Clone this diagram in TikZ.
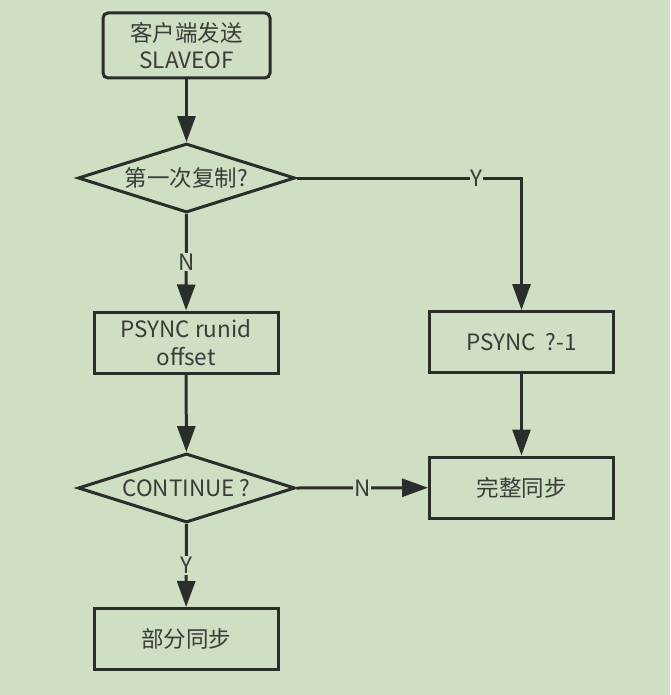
\documentclass[tikz,border=0pt]{standalone}
\usepackage{fontspec}
\setmainfont{Noto Sans CJK SC}
\usetikzlibrary{shapes.geometric,arrows.meta}
\definecolor{bg}{HTML}{CEDFC3}
\definecolor{ln}{HTML}{2A2E2A}
\definecolor{tx}{HTML}{3A3C3A}
\begin{document}
\begin{tikzpicture}[x=1pt,y=-1pt,
  every node/.style={text=tx,font=\fontsize{22.5}{27.5}\selectfont},
  box/.style={draw=ln,line width=3pt,inner sep=0pt,minimum width=184pt,minimum height=61pt,align=center},
  dia/.style={diamond,draw=ln,line width=3pt,inner sep=0pt,minimum width=217pt,minimum height=69pt,aspect=3.1},
  arr/.style={draw=ln,line width=3pt,-{Triangle[length=26pt,width=18pt]}},
  lbl/.style={fill=bg,inner sep=1pt}]
\fill[bg] (0,0) rectangle (670,695);
\useasboundingbox (0,0) rectangle (670,695);
\node[box,rounded corners=5pt,minimum width=167pt,minimum height=65pt] (start) at (186.5,45.5) {客户端发送\\SLAVEOF};
\node[dia] (d1) at (186.5,178) {第一次复制?};
\node[box] (p1) at (186,342.5) {PSYNC runid\\offset};
\node[box] (p2) at (521.5,342) {PSYNC\ \ ?-1};
\node[box] (full) at (521.5,487.5) {完整同步};
\node[dia] (d2) at (186.5,488) {CONTINUE ?};
\node[box] (part) at (186,639) {部分同步};
\draw[arr] (start) -- (d1);
\draw[arr] (d1) -- node[lbl]{N} (p1);
\draw[arr] (d1.east) -| node[lbl,pos=0.4]{Y} (p2);
\draw[arr] (p2) -- (full);
\draw[arr] (p1) -- (d2);
\draw[arr] (d2.east) -- node[lbl]{N} (full);
\draw[arr] (d2) -- node[lbl]{Y} (part);
\end{tikzpicture}
\end{document}
